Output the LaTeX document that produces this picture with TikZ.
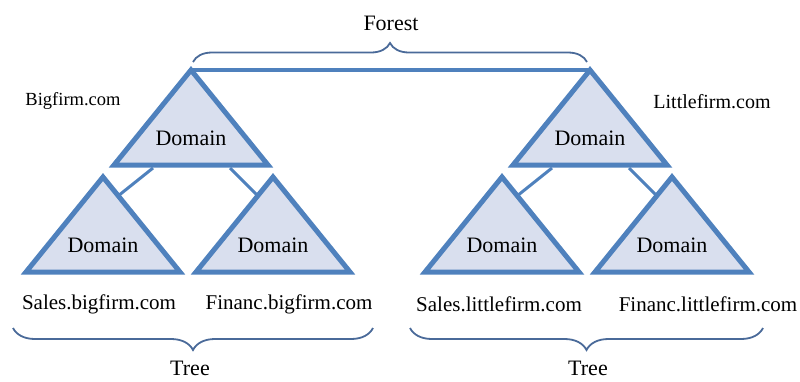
\documentclass[tikz,border=0pt]{standalone}
\usepackage{fontspec}
\setmainfont{Liberation Serif}
\usetikzlibrary{decorations.pathreplacing,calc}
\definecolor{triblue}{HTML}{4F81BD}
\definecolor{trifill}{HTML}{D9DFEE}
\definecolor{bracecol}{HTML}{4A6A99}
\begin{document}
\begin{tikzpicture}[x=1pt,y=-1pt,
  tri/.style={draw=triblue,fill=trifill,line width=5pt,line join=miter},
  link/.style={draw=triblue,line width=3pt},
  toplink/.style={draw=triblue,line width=4pt},
  brc/.style={draw=bracecol,line width=1.8pt,decorate,decoration={brace,amplitude=#1}},
  dom/.style={font=\fontsize{22}{26}\selectfont,inner sep=0pt},
  lbl/.style={font=\fontsize{21}{25}\selectfont,inner sep=0pt},
  captxt/.style={font=\fontsize{22}{26}\selectfont,inner sep=0pt}]
\useasboundingbox (0,0) rectangle (800,381);
% apexes
\foreach \n/\x/\y in {t1/191/70,t2/103/177,t3/273/177,t4/590/70,t5/502/177,t6/672/177}{
  \coordinate (\n) at (\x,\y);
  \coordinate (\n L) at (\x-77,\y+95);
  \coordinate (\n R) at (\x+77,\y+95);
}
% connectors between trees' domains
\coordinate (c1a) at (153,168); \coordinate (c1b) at (118,196);
\coordinate (c2a) at (230,168); \coordinate (c2b) at (258,196);
\coordinate (c3a) at (552,168); \coordinate (c3b) at (517,196);
\coordinate (c4a) at (629,168); \coordinate (c4b) at (657,196);
\draw[link] (c1a) -- (c1b);
\draw[link] (c2a) -- (c2b);
\draw[link] (c3a) -- (c3b);
\draw[link] (c4a) -- (c4b);
% triangles
\foreach \n in {t1,t2,t3,t4,t5,t6}{
  \draw[tri] (\n) -- (\n R) -- (\n L) -- cycle;
  \node[dom] (\n D) at ($(\n)+(0,68)$) {Domain};
}
% forest link
\draw[toplink] (t1) -- (t4);
% braces
\coordinate (fbL) at (193,62); \coordinate (fbR) at (587,62);
\draw[brc=19] (fbL) -- (fbR);
\node[captxt] (forest) at (391,23) {Forest};
\coordinate (b1L) at (13,328); \coordinate (b1R) at (373,328);
\draw[brc=22] (b1R) -- (b1L);
\node[captxt] (tree1) at (190,368) {Tree};
\coordinate (b2L) at (410,328); \coordinate (b2R) at (763,328);
\draw[brc=22] (b2R) -- (b2L);
\node[captxt] (tree2) at (588,368) {Tree};
% labels
\node[lbl,font=\fontsize{18.5}{22}\selectfont] (big) at (73,101) {Bigfirm.com};
\node[lbl,font=\fontsize{20}{24}\selectfont] (little) at (712,102) {Littlefirm.com};
\node[lbl] (s1) at (99,304) {Sales.bigfirm.com};
\node[lbl] (f1) at (289,304) {Financ.bigfirm.com};
\node[lbl] (s2) at (499,304) {Sales.littlefirm.com};
\node[lbl] (f2) at (708,304) {Financ.littlefirm.com};
\end{tikzpicture}
\end{document}
